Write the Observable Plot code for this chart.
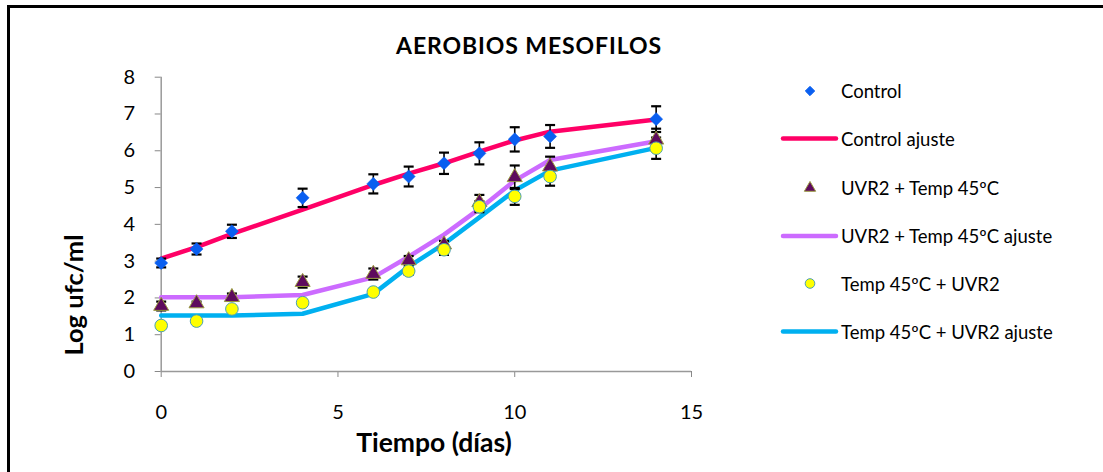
<!DOCTYPE html>
<html>
<head>
<meta charset="utf-8">
<script src="https://cdn.jsdelivr.net/npm/d3@7"></script>
<script src="https://cdn.jsdelivr.net/npm/@observablehq/plot@0.6"></script>
<style>
  html, body { margin: 0; padding: 0; background: #fff; }
  #wrap { position: relative; width: 1103px; height: 472px; overflow: hidden; font-family: Lato, "Open Sans", sans-serif; }
  #frame { position: absolute; left: 7px; top: 5px; width: 1110px; height: 480px; border-left: 3px solid #000; border-top: 3px solid #000; box-sizing: border-box; }
  #title { position: absolute; left: 529px; top: 45px; transform: translate(-50%, -50%); font-weight: bold; font-size: 23px; letter-spacing: 0.9px; color: #000; white-space: nowrap; }
  #ylab { position: absolute; left: 73px; top: 295px; transform: translate(-50%, -50%) rotate(-90deg); font-weight: bold; font-size: 25.5px; white-space: nowrap; }
  #xlab { position: absolute; left: 434px; top: 442px; transform: translate(-50%, -50%); font-weight: bold; font-size: 26.5px; white-space: nowrap; }
  #plot { position: absolute; left: 0; top: 0; }
  .leg { position: absolute; left: 0; top: 0; }
  .legtext { position: absolute; left: 841px; font-size: 18.5px; transform: translateY(-50%); white-space: nowrap; }
</style>
</head>
<body>
<div id="wrap">
  <div id="plot"></div>
  <div id="frame"></div>
  <div id="title">AEROBIOS MESOFILOS</div>
  <div id="ylab">Log ufc/ml</div>
  <div id="xlab">Tiempo (días)</div>
  <div id="legend"></div>
</div>
<script>
// ---- data ----
const days = [0, 1, 2, 4, 6, 7, 8, 9, 10, 11, 14];

const controlObs   = [2.95, 3.33, 3.81, 4.72, 5.10, 5.30, 5.66, 5.93, 6.31, 6.39, 6.86];
const controlErr   = [0.12, 0.15, 0.18, 0.25, 0.26, 0.27, 0.29, 0.30, 0.33, 0.31, 0.35];
const controlFit   = [3.07, 3.38, 3.74, 4.40, 5.07, 5.38, 5.66, 5.98, 6.28, 6.52, 6.85];

const uvrTempObs   = [1.78, 1.85, 2.02, 2.43, 2.65, 3.02, 3.45, 4.60, 5.28, 5.57, 6.30];
const uvrTempErr   = [0.12, 0.05, 0.10, 0.15, 0.15, 0.12, 0.10, 0.20, 0.32, 0.27, 0.30];
const uvrTempFit   = [2.02, 2.02, 2.02, 2.08, 2.56, 3.12, 3.72, 4.42, 5.19, 5.75, 6.26];

const tempUvrObs   = [1.25, 1.37, 1.70, 1.87, 2.16, 2.73, 3.31, 4.48, 4.76, 5.30, 6.07];
const tempUvrErr   = [0.05, 0.05, 0.05, 0.05, 0.05, 0.10, 0.14, 0.15, 0.23, 0.25, 0.29];
const tempUvrFit   = [1.52, 1.52, 1.52, 1.57, 2.11, 2.85, 3.47, 4.19, 4.92, 5.46, 6.08];

const xTicks = [0, 5, 10, 15];
const yTicks = [0, 1, 2, 3, 4, 5, 6, 7, 8];

const seriesNames = ["Control", "Control ajuste", "UVR2 + Temp 45ºC", "UVR2 + Temp 45ºC ajuste", "Temp 45ºC + UVR2", "Temp 45ºC + UVR2 ajuste"];

// ---- styles ----
const C = {
  control: "#0a5ff0", controlLine: "#ff0066",
  tri: "#5e0a5e", triEdge: "#9a9a40", triLine: "#cc6bff",
  circ: "#ffff00", circEdge: "#4a9fb5", circLine: "#00b0f0"
};

const rows = (obs, err, fit) => days.map((d, i) => ({x: d, y: obs[i], e: err[i], f: fit[i]}));
const ctrl = rows(controlObs, controlErr, controlFit);
const ut = rows(uvrTempObs, uvrTempErr, uvrTempFit);
const tu = rows(tempUvrObs, tempUvrErr, tempUvrFit);

const hline = { draw(ctx, size) { const w = Math.sqrt(size / Math.PI); ctx.moveTo(-w, 0); ctx.lineTo(w, 0); } };

function errMarks(data) {
  return [
    Plot.ruleX(data, {x: "x", y1: d => d.y - d.e, y2: d => d.y + d.e, stroke: "#000", strokeWidth: 1.6}),
    Plot.dot(data, {x: "x", y: d => d.y + d.e, symbol: hline, r: 5, stroke: "#000", strokeWidth: 2.2, fill: "none"}),
    Plot.dot(data, {x: "x", y: d => d.y - d.e, symbol: hline, r: 5, stroke: "#000", strokeWidth: 2.2, fill: "none"})
  ];
}

const chart = Plot.plot({
  width: 1103, height: 472,
  marginLeft: 160.7, marginRight: 412, marginTop: 76.7, marginBottom: 101,
  style: {fontFamily: "Lato, 'Open Sans', sans-serif", background: "transparent"},
  x: {domain: [0, 15]},
  y: {domain: [0, 8]},
  marks: [
    Plot.axisX({ticks: xTicks, tickSize: 6, tickPadding: 27, fontSize: 20, label: null, stroke: "#888", color: "#000"}),
    Plot.axisY({ticks: yTicks, tickSize: 6, tickPadding: 20, fontSize: 20, label: null, stroke: "#888", color: "#000"}),
    Plot.ruleY([0], {stroke: "#999", strokeWidth: 1.5}),
    Plot.ruleX([0], {stroke: "#999", strokeWidth: 1.5}),
    Plot.line(ctrl, {x: "x", y: "f", stroke: C.controlLine, strokeWidth: 4.5}),
    Plot.line(ut, {x: "x", y: "f", stroke: C.triLine, strokeWidth: 4.5}),
    Plot.line(tu, {x: "x", y: "f", stroke: C.circLine, strokeWidth: 4.5}),
    ...errMarks(ctrl),
    ...errMarks(ut),
    ...errMarks(tu),
    Plot.dot(ctrl, {x: "x", y: "y", symbol: "diamond2", r: 5.9, fill: C.control, stroke: C.control, strokeWidth: 0.5}),
    Plot.dot(ut, {x: "x", y: "y", symbol: "triangle", r: 5.6, fill: C.tri, stroke: C.triEdge, strokeWidth: 1}),
    Plot.dot(tu, {x: "x", y: "y", r: 6.3, fill: C.circ, stroke: C.circEdge, strokeWidth: 1})
  ]
});
document.getElementById("plot").appendChild(chart);

// ---- legend ----
const legY = [91, 138.5, 188, 236, 283.5, 331.5];
const legKinds = [
  {type: "dot", symbol: "diamond2", r: 4.2, fill: C.control, stroke: C.control},
  {type: "line", stroke: C.controlLine},
  {type: "dot", symbol: "triangle", r: 4.2, fill: C.tri, stroke: C.triEdge},
  {type: "line", stroke: C.triLine},
  {type: "dot", symbol: "circle", r: 4.8, fill: C.circ, stroke: C.circEdge},
  {type: "line", stroke: C.circLine}
];
const legSvg = d3.select("#legend").append("svg").attr("class", "leg").attr("width", 1103).attr("height", 472);
const symMap = {diamond2: d3.symbolDiamond2, triangle: d3.symbolTriangle, circle: d3.symbolCircle};
legKinds.forEach((k, i) => {
  if (k.type === "line") {
    legSvg.append("line").attr("x1", 783).attr("x2", 836).attr("y1", legY[i]).attr("y2", legY[i])
      .attr("stroke", k.stroke).attr("stroke-width", 4.5).attr("stroke-linecap", "round");
  } else {
    legSvg.append("path").attr("transform", `translate(810,${legY[i]})`)
      .attr("d", d3.symbol(symMap[k.symbol], Math.PI * k.r * k.r)())
      .attr("fill", k.fill).attr("stroke", k.stroke).attr("stroke-width", 1);
  }
  const t = document.createElement("div");
  t.className = "legtext";
  t.style.top = legY[i] + "px";
  t.textContent = seriesNames[i];
  document.getElementById("legend").appendChild(t);
});
</script>
</body>
</html>
